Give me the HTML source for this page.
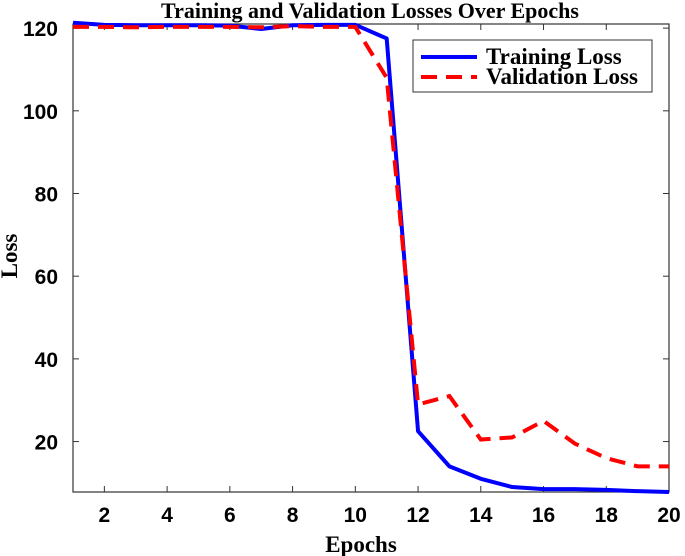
<!DOCTYPE html>
<html><head><meta charset="utf-8"><style>
html,body{margin:0;padding:0;background:#fff;}
svg{display:block;}
</style></head><body>
<svg id="chart" width="685" height="556" xmlns="http://www.w3.org/2000/svg">
<text x="370" y="18" text-anchor="middle" font-family="Liberation Serif, serif" font-weight="bold" font-size="22">Training and Validation Losses Over Epochs</text>
<g id="axes"></g>
<g id="series"></g>
<text x="361" y="552" text-anchor="middle" font-family="Liberation Serif, serif" font-weight="bold" font-size="23">Epochs</text>
<text transform="translate(17,256) rotate(-90)" text-anchor="middle" font-family="Liberation Serif, serif" font-weight="bold" font-size="23">Loss</text>
<g>
<rect x="413" y="40" width="239" height="52" fill="#fff" stroke="#333" stroke-width="1"/>
<line x1="421" y1="57" x2="477" y2="57" stroke="#0000ff" stroke-width="4"/>
<text x="486" y="64" font-family="Liberation Serif, serif" font-weight="bold" font-size="23">Training Loss</text>
<line x1="421" y1="77" x2="477" y2="77" stroke="#ff0000" stroke-width="4" stroke-dasharray="16,9"/>
<text x="486" y="84" font-family="Liberation Serif, serif" font-weight="bold" font-size="23">Validation Loss</text>
</g>
</svg>
<script>
const epochs=[1,2,3,4,5,6,7,8,9,10,11,12,13,14,15,16,17,18,19,20];
const trainLoss=[121.3,120.8,120.7,120.7,120.7,120.6,119.8,120.7,120.8,120.8,117.5,22.5,14,11,9,8.5,8.5,8.3,8,7.8];
const valLoss=[120.3,120.3,120.2,120.3,120.3,120.3,120.2,120.5,120.3,120.3,108,29,31,20.5,21,25,19.5,16,14,14];
const xTicks=[2,4,6,8,10,12,14,16,18,20];
const yTicks=[20,40,60,80,100,120];
const L=73,R=669,T=24,B=492,xMin=1,xMax=20,yMin=7.8,yMax=121;
const sx=v=>L+(v-xMin)/(xMax-xMin)*(R-L);
const sy=v=>B-(v-yMin)/(yMax-yMin)*(B-T);
const NS="http://www.w3.org/2000/svg";
const axes=document.getElementById('axes'),ser=document.getElementById('series');
function mk(tag,attrs,parent){const e=document.createElementNS(NS,tag);for(const k in attrs)e.setAttribute(k,attrs[k]);parent.appendChild(e);return e;}
const box=mk('rect',{x:L,y:T,width:R-L,height:B-T,fill:'none',stroke:'#333','stroke-width':1.2},axes);


xTicks.forEach(v=>{
 const t=mk('line',{x1:sx(v),x2:sx(v),y1:B,y2:B-6,stroke:'#333'},axes);
 
 
 mk('line',{x1:sx(v),x2:sx(v),y1:T,y2:T+6,stroke:'#333'},axes);
 const l=mk('text',{x:sx(v),y:B+30,'text-anchor':'middle','font-family':'Liberation Sans, sans-serif','font-weight':'bold','font-size':21},axes);
 l.textContent=v;
 
 
});
yTicks.forEach(v=>{
 const t=mk('line',{x1:L,x2:L+6,y1:sy(v),y2:sy(v),stroke:'#333'},axes);
 
 
 mk('line',{x1:R,x2:R-6,y1:sy(v),y2:sy(v),stroke:'#333'},axes);
 const l=mk('text',{x:L-15,y:sy(v)+8,'text-anchor':'end','font-family':'Liberation Sans, sans-serif','font-weight':'bold','font-size':21},axes);
 l.textContent=v;
 
 
});
const pts=a=>epochs.map((e,i)=>sx(e)+','+sy(a[i])).join(' ');
const tl=mk('polyline',{points:pts(trainLoss),fill:'none',stroke:'#0000ff','stroke-width':4,'stroke-linejoin':'round'},ser);


const vl=mk('polyline',{points:pts(valLoss),fill:'none',stroke:'#ff0000','stroke-width':4,'stroke-dasharray':'16,9'},ser);


</script>
</body></html>
